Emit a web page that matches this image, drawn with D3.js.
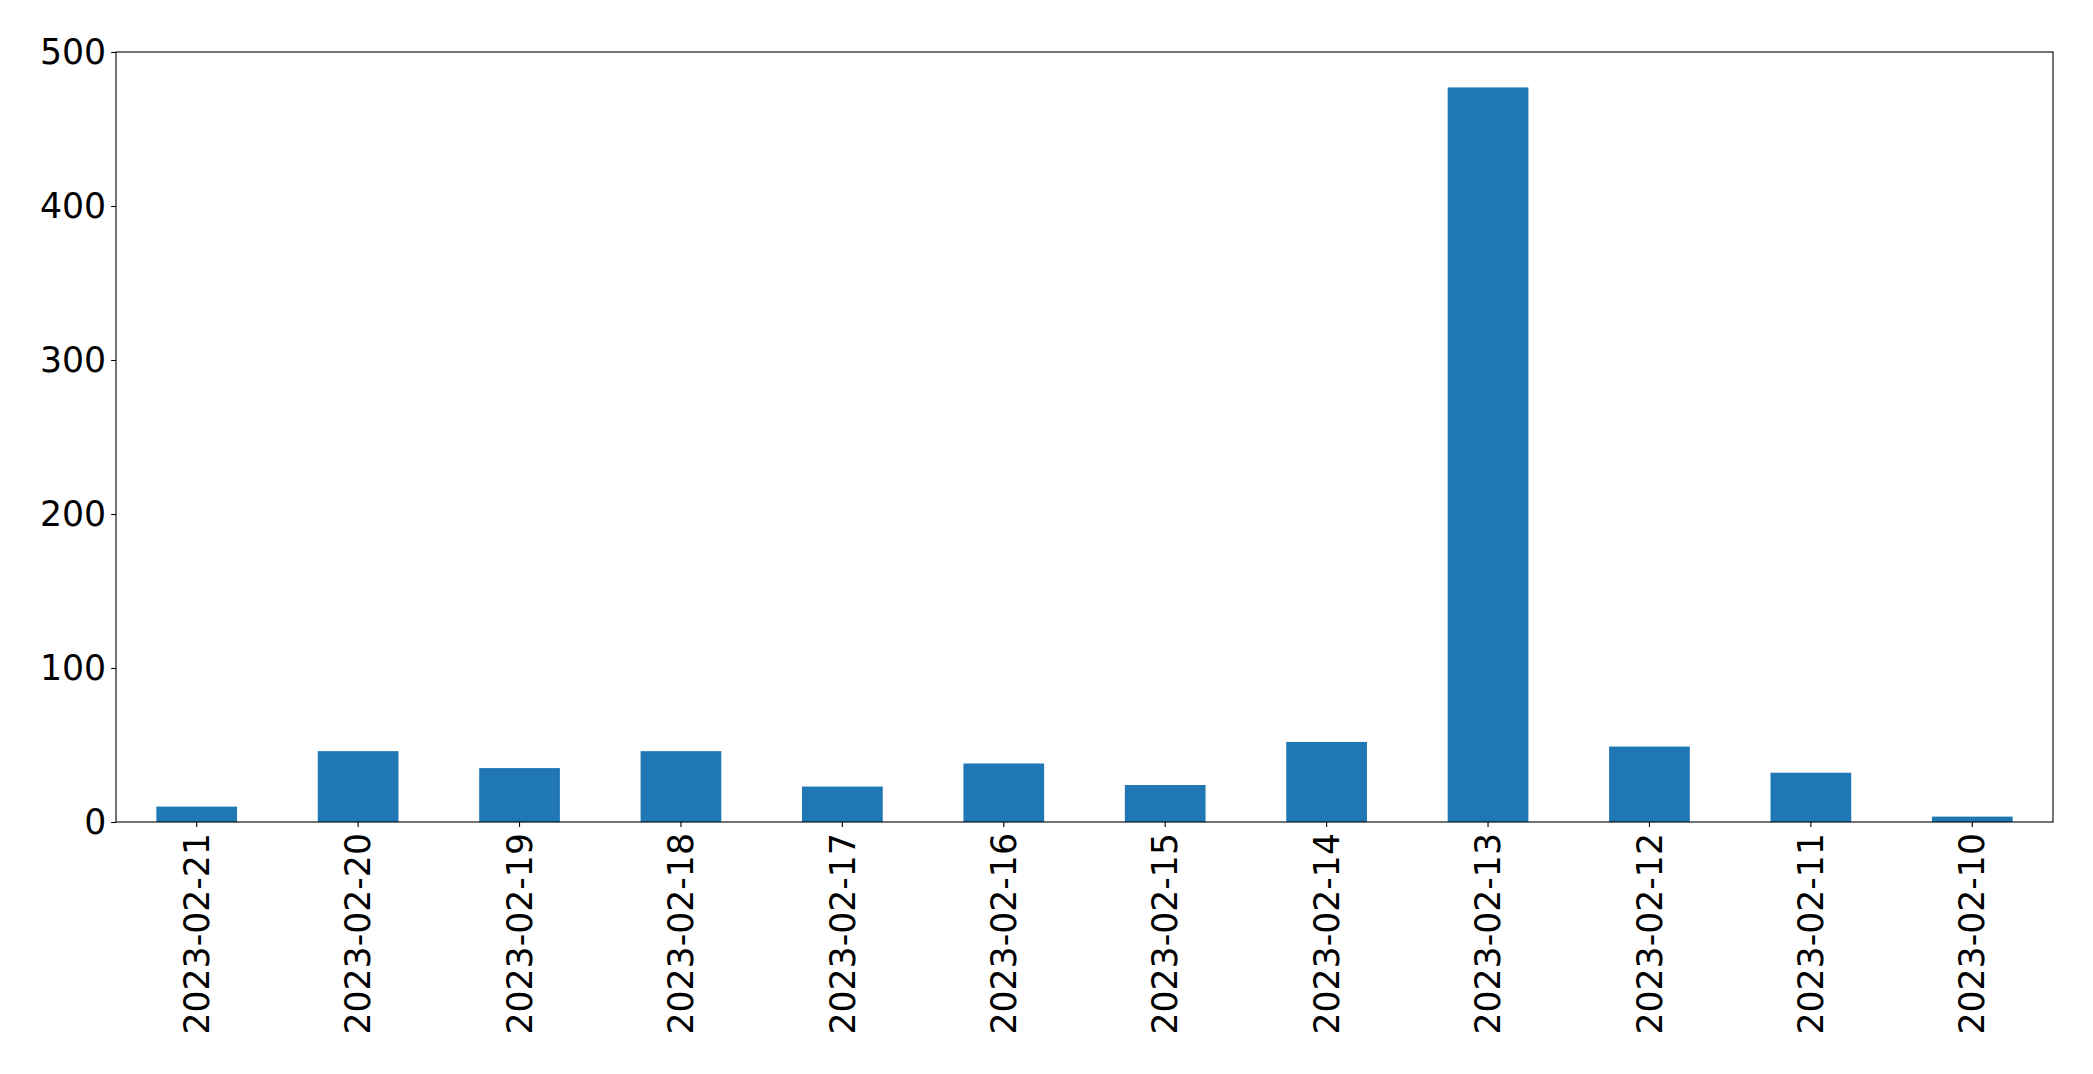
<!DOCTYPE html>
<html>
<head>
<meta charset="utf-8">
<script src="https://cdn.jsdelivr.net/npm/d3@7"></script>
<style>
  html, body { margin: 0; padding: 0; background: #ffffff; }
  svg { display: block; }
  text { font-family: "DejaVu Sans", sans-serif; }
</style>
</head>
<body>
<svg id="chart" width="2093" height="1074"></svg>
<script>
const categories = ["2023-02-21","2023-02-20","2023-02-19","2023-02-18","2023-02-17","2023-02-16","2023-02-15","2023-02-14","2023-02-13","2023-02-12","2023-02-11","2023-02-10"];
const values = [10, 46, 35, 46, 23, 38, 24, 52, 477, 49, 32, 3.5];
const yTicks = [0, 100, 200, 300, 400, 500];

const W = 2093, H = 1074;
const margin = {left: 116, right: W - 2053, top: 52, bottom: H - 822};
const svg = d3.select("#chart");
const g = svg.append("g").attr("transform", `translate(${margin.left},${margin.top})`);
const iw = W - margin.left - margin.right;
const ih = H - margin.top - margin.bottom;

const x = d3.scaleBand().domain(categories).range([0, iw]).paddingInner(0.5).paddingOuter(0.25);
const y = d3.scaleLinear().domain([0, 500]).range([ih, 0]);

g.selectAll("rect.bar").data(categories).enter().append("rect")
  .attr("class", "bar")
  .attr("x", d => x(d))
  .attr("width", x.bandwidth())
  .attr("y", (d, i) => y(values[i]))
  .attr("height", (d, i) => y(0) - y(values[i]))
  .attr("fill", "#1f77b4");

const fs = "34.7px";

const yAxis = g.append("g")
  .call(d3.axisLeft(y).tickValues(yTicks).tickSize(4.9).tickPadding(4.9).tickFormat(d3.format("d")));
yAxis.select(".domain").remove();
yAxis.selectAll("line").attr("stroke", "#000").attr("stroke-width", 1.1);
yAxis.selectAll("text").attr("font-size", fs).attr("fill", "#000").attr("font-family", "DejaVu Sans");

const xAxis = g.append("g").attr("transform", `translate(0,${ih})`)
  .call(d3.axisBottom(x).tickSize(4.9).tickPadding(4.9));
xAxis.select(".domain").remove();
xAxis.selectAll("line").attr("stroke", "#000").attr("stroke-width", 1.1);
xAxis.selectAll("text")
  .attr("font-size", fs).attr("fill", "#000").attr("font-family", "DejaVu Sans")
  .attr("text-anchor", "end")
  .attr("dy", "0.35em")
  .attr("transform", "translate(0,0)")
  .each(function() {
    const t = d3.select(this);
    t.attr("y", 0).attr("x", 0)
     .attr("transform", "translate(0,11) rotate(-90)");
  });

// frame (spines)
g.append("rect")
  .attr("x", 0).attr("y", 0).attr("width", iw).attr("height", ih)
  .attr("fill", "none").attr("stroke", "#000").attr("stroke-width", 1.1);
</script>
</body>
</html>
